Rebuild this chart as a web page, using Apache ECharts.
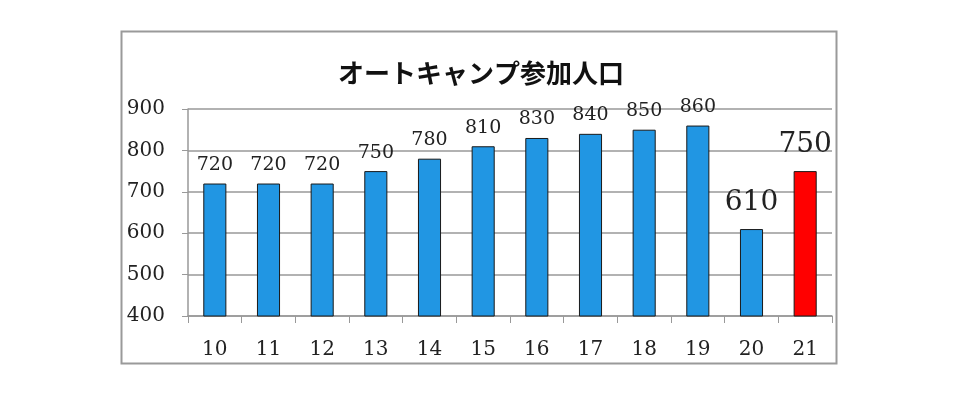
<!DOCTYPE html>
<html><head><meta charset="utf-8">
<script src="https://cdn.jsdelivr.net/npm/echarts@6/dist/echarts.min.js"></script>
<style>html,body{margin:0;padding:0;background:#fff}#c{width:960px;height:393px}</style>
</head><body><div id="c"></div>
<script>
const titleText = 'オートキャンプ参加人口';
const categories = ['10','11','12','13','14','15','16','17','18','19','20','21'];
const values = [720,720,720,750,780,810,830,840,850,860,610,750];
const yTicks = [400,500,600,700,800,900];
const highlightIdx = [10,11];
const redIdx = 11;

const chart = echarts.init(document.getElementById('c'));
const serif = '"DejaVu Serif", "Liberation Serif", serif';
const data = values.map((v,i)=>({
  value: v,
  itemStyle: {color: i===redIdx ? '#ff0000' : '#2196e3'},
  label: highlightIdx.includes(i) ? {fontSize: 28, distance: 12} : {}
}));
chart.setOption({
  animation:false,
  title:{text:titleText,left:476,top:55,textAlign:'center',
    textStyle:{fontFamily:'"Noto Sans CJK JP"',fontWeight:'bold',fontSize:26,color:'#111'}},
  graphic:[{type:'rect',shape:{x:121.5,y:31.5,width:715,height:332},
    style:{fill:'none',stroke:'#9a9a9a',lineWidth:2}}],
  grid:{left:188,right:128,top:109,bottom:77},
  xAxis:{type:'category',data:categories,
    axisLine:{lineStyle:{color:'#999',width:1.5}},
    axisTick:{show:true,length:7,lineStyle:{color:'#999'}},
    axisLabel:{fontFamily:serif,fontSize:20,color:'#222',margin:24}},
  yAxis:{type:'value',min:yTicks[0],max:yTicks[yTicks.length-1],interval:100,
    axisLine:{show:true,lineStyle:{color:'#999',width:1.5}},
    axisTick:{show:true,length:6,lineStyle:{color:'#999'}},
    splitLine:{lineStyle:{color:'#999',width:1.5}},
    axisLabel:{fontFamily:serif,fontSize:20,color:'#222',margin:23}},
  series:[{type:'bar',data:data,barWidth:'43%',
    itemStyle:{borderColor:'#1a1a1a',borderWidth:1},
    label:{show:true,position:'top',distance:9,fontFamily:serif,fontSize:19,color:'#222'}}]
});
</script></body></html>
